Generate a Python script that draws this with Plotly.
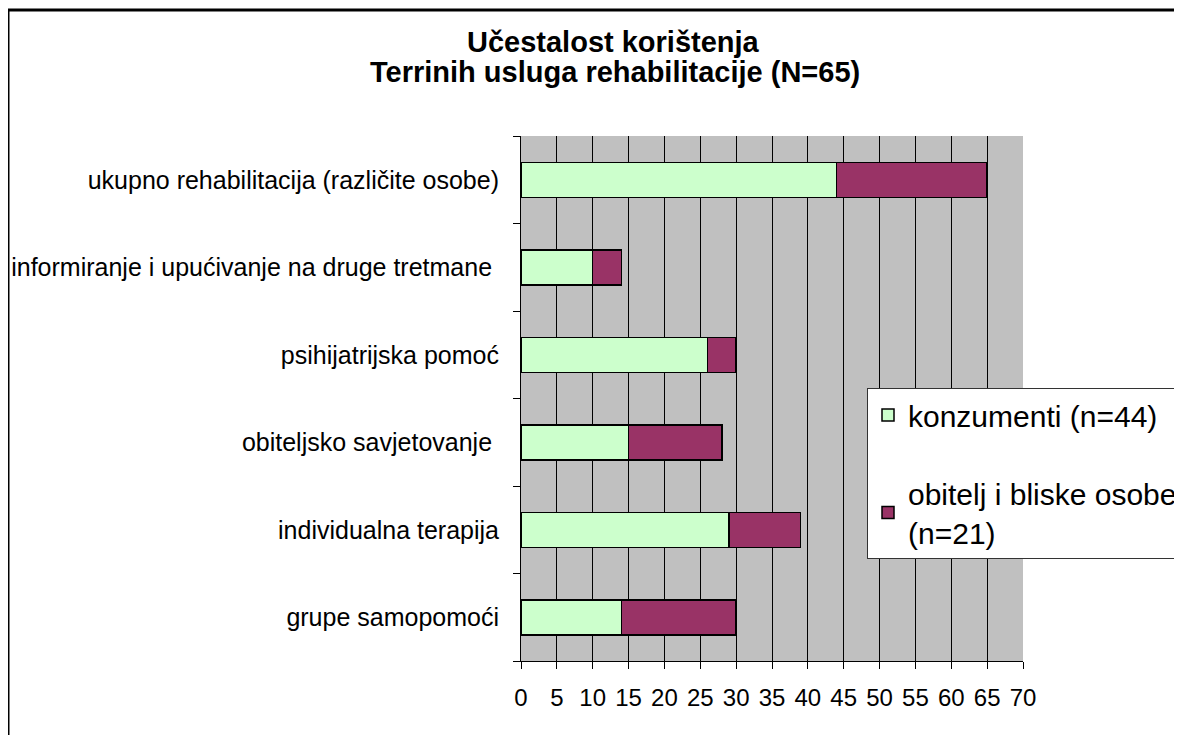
import plotly.graph_objects as go

categories = [
    "ukupno rehabilitacija (različite osobe)",
    "informiranje i upućivanje na druge tretmane ",
    "psihijatrijska pomoć",
    "obiteljsko savjetovanje ",
    "individualna terapija",
    "grupe samopomoći",
]
konzumenti = [44, 10, 26, 15, 29, 14]
obitelj = [21, 4, 4, 13, 10, 16]
x_ticks = list(range(0, 75, 5))
title_lines = ["Učestalost korištenja", "Terrinih usluga rehabilitacije (N=65)"]

# page offset (html body margin)
OFF = 8
W, H = 1182 - OFF, 735 - OFF
L, R, T, B = 521 - OFF, 1023 - OFF, 136 - OFF, 661 - OFF


def px_x(p):
    return (p - OFF - L) / (R - L)


def px_y(p):
    return (B - (p - OFF)) / (B - T)


FONT = "Liberation Sans, Arial, sans-serif"

fig = go.Figure()
fig.add_trace(go.Bar(
    y=categories, x=konzumenti, orientation="h", name="konzumenti (n=44)",
    marker=dict(color="#CCFFCC", line=dict(color="black", width=1.5)),
    legendgroup="a",
))
fig.add_trace(go.Bar(
    y=categories, x=obitelj, orientation="h", name="obitelj i bliske osobe<br>(n=21)",
    marker=dict(color="#993366", line=dict(color="black", width=1.5)),
    legendgroup="b",
))

fig.update_layout(
    width=W, height=H,
    barmode="stack", bargap=0.6,
    margin=dict(l=L, r=W - R, t=T, b=H - B, autoexpand=False),
    paper_bgcolor="white", plot_bgcolor="#C0C0C0",
    font=dict(family=FONT, size=22, color="black"),
    xaxis=dict(
        range=[0, 70], tickvals=x_ticks, ticktext=[str(v) for v in x_ticks],
        showgrid=True, gridcolor="black", gridwidth=1,
        ticks="outside", ticklen=7, tickcolor="black",
        showline=True, linecolor="black", linewidth=1,
        zeroline=False, tickfont=dict(size=24), ticklabelstandoff=8,
        fixedrange=True,
    ),
    yaxis=dict(
        categoryorder="array", categoryarray=categories[::-1],
        ticks="outside", ticklen=7, tickcolor="black", tickson="boundaries",
        showline=True, linecolor="black", linewidth=1,
        showgrid=False, tickfont=dict(size=25), ticklabelstandoff=16,
        fixedrange=True, automargin=False,
    ),
    legend=dict(
        x=px_x(867), y=px_y(388), xanchor="left", yanchor="top",
        bgcolor="white", bordercolor="#333333", borderwidth=1,
        font=dict(size=30), traceorder="grouped", tracegroupgap=36,
        itemwidth=30,
    ),
    showlegend=True,
)

fig.add_annotation(
    text="<b>%s</b>" % title_lines[0], xref="paper", yref="paper",
    x=px_x(613), y=px_y(42), xanchor="center", yanchor="middle",
    showarrow=False, font=dict(size=29),
)
fig.add_annotation(
    text="<b>%s</b>" % title_lines[1], xref="paper", yref="paper",
    x=px_x(615), y=px_y(72), xanchor="center", yanchor="middle",
    showarrow=False, font=dict(size=29),
)

fig.add_shape(
    type="rect", xref="paper", yref="paper",
    x0=px_x(8), x1=px_x(1210), y0=px_y(770), y1=px_y(10),
    line=dict(color="black", width=3), fillcolor="rgba(0,0,0,0)", layer="above",
)

fig.write_html("out.html")
